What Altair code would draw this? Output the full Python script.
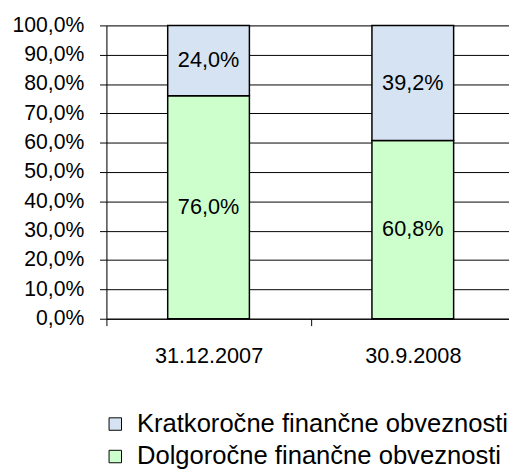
import altair as alt
import pandas as pd

dates = ["31.12.2007", "30.9.2008"]
series = ["Kratkoročne finančne obveznosti", "Dolgoročne finančne obveznosti"]
short_vals = [24.0, 39.2]
long_vals = [76.0, 60.8]
colors = ["#D6E3F3", "#CCFFCC"]
y_ticks = [0, 10, 20, 30, 40, 50, 60, 70, 80, 90, 100]

rows = []
for i, d in enumerate(dates):
    rows.append({"date": d, "series": series[1], "value": long_vals[i], "ord": 0})
    rows.append({"date": d, "series": series[0], "value": short_vals[i], "ord": 1})
df = pd.DataFrame(rows)

FONT = "Liberation Sans"

base = alt.Chart(df).transform_stack(
    stack="value", groupby=["date"], sort=[alt.SortField("ord")], as_=["y0", "y1"]
).transform_calculate(
    mid="(datum.y0 + datum.y1) / 2",
    label="replace(format(datum.value, '.1f'), '.', ',') + '%'",
)

x_axis = alt.Axis(
    labelAngle=0,
    labelFontSize=22,
    labelPadding=20,
    labelFont=FONT,
    labelColor="#000",
    domainColor="#000",
    tickColor="#000",
    tickSize=7,
    tickBand="extent",
    grid=False,
    labelOverlap=False,
)
y_axis = alt.Axis(
    values=y_ticks,
    labelExpr="replace(format(datum.value, '.1f'), '.', ',') + '%'",
    labelFontSize=21.5,
    labelFont=FONT,
    labelColor="#000",
    labelPadding=16,
    labelOverlap=False,
    domainColor="#000",
    tickColor="#000",
    tickSize=7,
    gridColor="#000",
    gridWidth=1,
    gridOpacity=1,
)
x_scale = alt.Scale(paddingInner=0, paddingOuter=0, range=[0, 415])
y_scale = alt.Scale(domain=[0, 100], nice=False)

bars = base.mark_bar(
    width=alt.RelativeBandSize(0.4), stroke="#000", strokeWidth=1.5
).encode(
    x=alt.X("date:N", sort=dates, title=None, scale=x_scale, axis=x_axis),
    y=alt.Y("y0:Q", title=None, scale=y_scale, axis=y_axis),
    y2="y1:Q",
    color=alt.Color(
        "series:N",
        scale=alt.Scale(domain=series, range=colors),
        legend=alt.Legend(
            title=None,
            orient="none",
            legendX=-4,
            legendY=392,
            direction="vertical",
            symbolType="square",
            symbolSize=160,
            symbolStrokeColor="#000",
            symbolStrokeWidth=1,
            labelFontSize=26,
            labelFont=FONT,
            labelColor="#000",
            labelOffset=9,
            rowPadding=7,
            padding=0,
            labelLimit=500,
        ),
    ),
    order=alt.Order("ord:Q"),
)

texts = base.mark_text(fontSize=22, font=FONT, color="#000").encode(
    x=alt.X("date:N", sort=dates, title=None, scale=x_scale, axis=x_axis),
    y=alt.Y("mid:Q", title=None, scale=y_scale, axis=y_axis),
    text="label:N",
)

chart = alt.layer(bars, texts).properties(
    width=409,
    height=298,
    autosize=alt.AutoSizeParams(type="none"),
    padding={"left": 100, "top": 14, "right": 0, "bottom": 150},
).configure_view(stroke=None).configure(background="#ffffff")

chart.save("out.html", embed_options={"renderer": "svg", "actions": False})
